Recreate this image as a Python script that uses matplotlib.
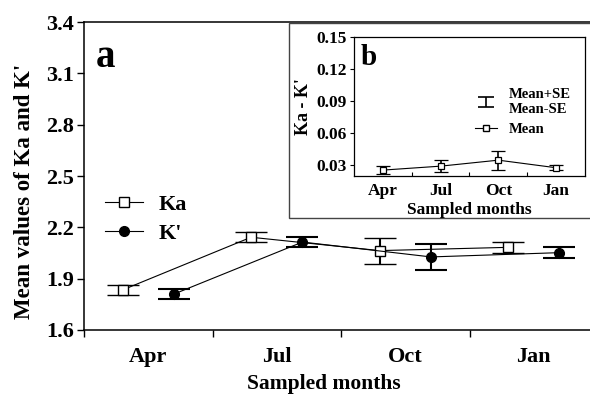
import numpy as np
import matplotlib
matplotlib.use("Agg")
import matplotlib.pyplot as plt
from matplotlib.patches import Rectangle
from matplotlib.lines import Line2D
from matplotlib.legend_handler import HandlerErrorbar

plt.rcParams['font.family'] = ['Liberation Serif', 'DejaVu Serif']
plt.rcParams['font.weight'] = 'bold'

months = ['Apr', 'Jul', 'Oct', 'Jan']

# panel a: means and SE
ka_mean = [1.834, 2.142, 2.064, 2.083]
ka_se = [0.027, 0.029, 0.076, 0.033]
kp_mean = [1.810, 2.114, 2.027, 2.052]
kp_se = [0.028, 0.028, 0.076, 0.033]

# panel b: Ka - K'
diff_mean = [0.0255, 0.0292, 0.0348, 0.0277]
diff_se = [0.0036, 0.0053, 0.0089, 0.0025]

fig = plt.figure(figsize=(5.9, 3.96), dpi=100)

ax = fig.add_axes([0.1424, 0.1667, 0.8712, 0.7777])
x = np.arange(len(months))
ax.errorbar(x - 0.2, ka_mean, yerr=ka_se, color='black', lw=0.8, elinewidth=1.5,
            capsize=11.5, capthick=1.5, marker='s', ms=6.5, mfc='white', mec='black',
            mew=1.0, zorder=3)
ax.errorbar(x + 0.2, kp_mean, yerr=kp_se, color='black', lw=0.8, elinewidth=1.5,
            capsize=11.5, capthick=1.5, marker='o', ms=7, mfc='black', mec='black',
            zorder=3)

ax.set_xlim(-0.5, 3.5)
ax.set_ylim(1.6, 3.4)
ax.set_yticks(np.arange(1.6, 3.41, 0.3))
ax.set_yticklabels(['%.1f' % v for v in np.arange(1.6, 3.41, 0.3)])
ax.set_xticks([-0.5, 0.5, 1.5, 2.5])
ax.set_xticklabels([])
ax.set_xticks(x, minor=True)
ax.set_xticklabels(months, minor=True)
ax.tick_params(axis='x', which='minor', length=0, pad=12, labelsize=16)
ax.tick_params(axis='x', which='major', length=5, width=1, direction='out')
ax.tick_params(axis='y', length=5, width=1, direction='out', labelsize=16, pad=2)
for s in ax.spines.values():
    s.set_linewidth(1.1)
ax.set_xlabel('Sampled months', fontsize=15.5, fontweight='bold')
ax.xaxis.set_label_coords(0.467, -0.143)
ax.set_ylabel("Mean values of Ka and K'", fontsize=16.5, fontweight='bold')
ax.yaxis.set_label_coords(-0.096, 0.451)
ax.text(0.022, 0.885, 'a', transform=ax.transAxes, fontsize=28, fontweight='bold',
        va='center', ha='left')

h_ka = Line2D([], [], color='black', lw=0.8, marker='s', ms=6.5, mfc='white', mec='black')
h_kp = Line2D([], [], color='black', lw=0.8, marker='o', ms=7, mfc='black', mec='black')
ax.legend([h_ka, h_kp], ['Ka', "K'"], loc='center left', bbox_to_anchor=(0.041, 0.36),
          frameon=False, fontsize=16, handlelength=1.7, handletextpad=0.7,
          labelspacing=0.4, borderaxespad=0, borderpad=0)

# inset frame
fig.add_artist(Rectangle((0.4898, 0.4495), 0.6, 0.4925, transform=fig.transFigure,
                         fill=True, facecolor='white', edgecolor='#444444', lw=1.0,
                         zorder=2))

axb = fig.add_axes([0.6, 0.5556, 0.3915, 0.351], zorder=3)
axb.errorbar(x, diff_mean, yerr=diff_se, color='black', lw=0.8, elinewidth=1.2,
             capsize=5, capthick=1.2, marker='s', ms=4.5, mfc='white', mec='black',
             mew=0.9)
axb.set_xlim(-0.5, 3.5)
axb.set_ylim(0.02, 0.15)
axb.set_yticks([0.03, 0.06, 0.09, 0.12, 0.15])
axb.set_yticklabels(['0.03', '0.06', '0.09', '0.12', '0.15'])
axb.set_xticks([0.5, 1.5, 2.5])
axb.set_xticklabels([])
axb.set_xticks(x, minor=True)
axb.set_xticklabels(months, minor=True)
axb.tick_params(axis='x', which='minor', length=0, pad=5, labelsize=12.5)
axb.tick_params(axis='x', which='major', length=3, width=0.8, direction='in')
axb.tick_params(axis='y', length=3, width=0.8, direction='out', labelsize=12.5, pad=2)
for s in axb.spines.values():
    s.set_linewidth(0.9)
axb.set_xlabel('Sampled months', fontsize=12.5, fontweight='bold', labelpad=2)
axb.set_ylabel("Ka - K'", fontsize=13, fontweight='bold', labelpad=3)
axb.text(0.03, 0.85, 'b', transform=axb.transAxes, fontsize=21, fontweight='bold',
         va='center', ha='left')

# dummy errorbar outside the view, only used as legend handle
eb_handle = axb.errorbar([10], [1], yerr=[0.1], fmt='none', ecolor='black',
                         elinewidth=1.2, capsize=5.5, capthick=1.2)
h_mean = Line2D([], [], color='black', lw=0.8, marker='s', ms=4.5, mfc='white', mec='black')
axb.legend([eb_handle, h_mean], ['Mean+SE\nMean-SE', 'Mean'], loc='center left',
           bbox_to_anchor=(0.524, 0.46), frameon=False, fontsize=10.5, handlelength=1.5,
           handletextpad=0.8, labelspacing=0.5, borderaxespad=0, borderpad=0,
           handler_map={type(eb_handle): HandlerErrorbar(yerr_size=0.35)})

fig.savefig('out.png', dpi=100)
